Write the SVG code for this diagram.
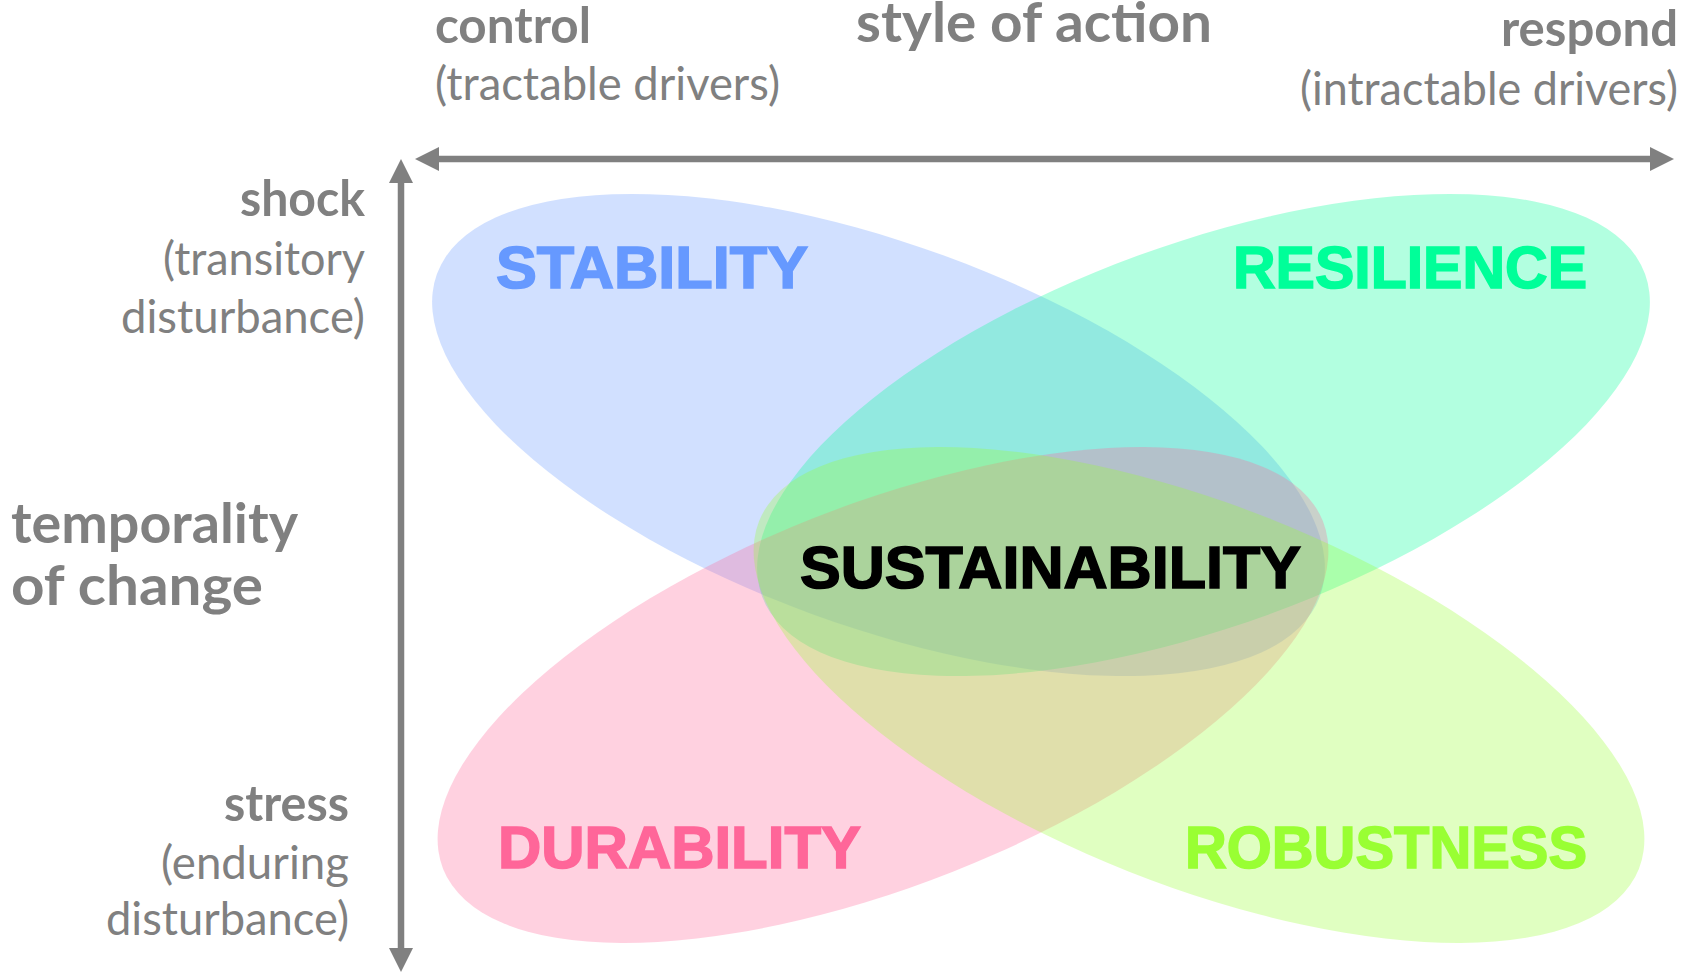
<svg xmlns="http://www.w3.org/2000/svg" width="1685" height="973" viewBox="0 0 1685 973">
<style>
.ax{fill:#808080;font-family:Lato,"Open Sans","Liberation Sans",sans-serif}
.b52{font-size:50px;font-weight:bold}
.b60{font-size:56px;font-weight:bold}
.r47{font-size:46px;font-weight:normal}
.lab{font-family:"Liberation Sans",Arial,sans-serif;font-size:60px;font-weight:bold;stroke-width:1.6}
.pet{opacity:0.3}
</style>
<defs>
<marker id="ah" viewBox="0 0 24 24" refX="0" refY="12" markerWidth="24" markerHeight="24" markerUnits="userSpaceOnUse" orient="auto-start-reverse">
<path d="M0,0 L24,12 L0,24 z" fill="#808080"/>
</marker>
</defs>
<rect width="1685" height="973" fill="#ffffff"/>
<g id="stability">
<ellipse class="pet" cx="878.5" cy="435" rx="470" ry="191" transform="rotate(20.03 878.5 435)" fill="#6699FF"/>
<text class="lab" x="496" y="288" textLength="312" lengthAdjust="spacingAndGlyphs" fill="#6699FF" stroke="#6699FF">STABILITY</text>
</g>
<g id="resilience">
<ellipse class="pet" cx="1203.5" cy="435" rx="470" ry="191" transform="rotate(-20.03 1203.5 435)" fill="#00FF99"/>
<text class="lab" x="1233" y="288" textLength="354" lengthAdjust="spacingAndGlyphs" fill="#00FF99" stroke="#00FF99">RESILIENCE</text>
</g>
<g id="durability">
<ellipse class="pet" cx="883" cy="695" rx="473" ry="190" transform="rotate(-21.57 883 695)" fill="#FF6699"/>
<text class="lab" x="498" y="868" textLength="363" lengthAdjust="spacingAndGlyphs" fill="#FF6699" stroke="#FF6699">DURABILITY</text>
</g>
<g id="robustness">
<ellipse class="pet" cx="1199" cy="695" rx="473" ry="190" transform="rotate(21.57 1199 695)" fill="#99FF33"/>
<text class="lab" x="1185" y="868" textLength="402" lengthAdjust="spacingAndGlyphs" fill="#99FF33" stroke="#99FF33">ROBUSTNESS</text>
</g>
<g id="sustainability">
<text class="lab" x="800" y="588" textLength="501" lengthAdjust="spacingAndGlyphs" fill="#000000" stroke="#000000">SUSTAINABILITY</text>
</g>
<g id="connectors">
<path d="M439,159 L1650,159" stroke="#808080" stroke-width="6.5" fill="none" marker-start="url(#ah)" marker-end="url(#ah)"/>
<path d="M401,183 L401,948" stroke="#808080" stroke-width="6.5" fill="none" marker-start="url(#ah)" marker-end="url(#ah)"/>
</g>
<g id="axis-labels" class="ax">
<text class="b52" x="435" y="43" textLength="156" lengthAdjust="spacingAndGlyphs">control</text>
<text class="r47" x="435" y="100" textLength="345" lengthAdjust="spacingAndGlyphs">(tractable drivers)</text>
<text class="b60" x="856" y="42" textLength="356" lengthAdjust="spacingAndGlyphs">style of action</text>
<text class="b52" x="1678" y="46" text-anchor="end" textLength="177" lengthAdjust="spacingAndGlyphs">respond</text>
<text class="r47" x="1678" y="105" text-anchor="end" textLength="378" lengthAdjust="spacingAndGlyphs">(intractable drivers)</text>
<text class="b52" x="365" y="216" text-anchor="end" textLength="125" lengthAdjust="spacingAndGlyphs">shock</text>
<text class="r47" x="365" y="275" text-anchor="end" textLength="202" lengthAdjust="spacingAndGlyphs">(transitory</text>
<text class="r47" x="365" y="333" text-anchor="end" textLength="244" lengthAdjust="spacingAndGlyphs">disturbance)</text>
<text class="b60" x="11" y="543" textLength="287" lengthAdjust="spacingAndGlyphs">temporality</text>
<text class="b60" x="11" y="605" textLength="252" lengthAdjust="spacingAndGlyphs">of change</text>
<text class="b52" x="349" y="821" text-anchor="end" textLength="125" lengthAdjust="spacingAndGlyphs">stress</text>
<text class="r47" x="349" y="879" text-anchor="end" textLength="188" lengthAdjust="spacingAndGlyphs">(enduring</text>
<text class="r47" x="349" y="935" text-anchor="end" textLength="243" lengthAdjust="spacingAndGlyphs">disturbance)</text>
</g>
</svg>
